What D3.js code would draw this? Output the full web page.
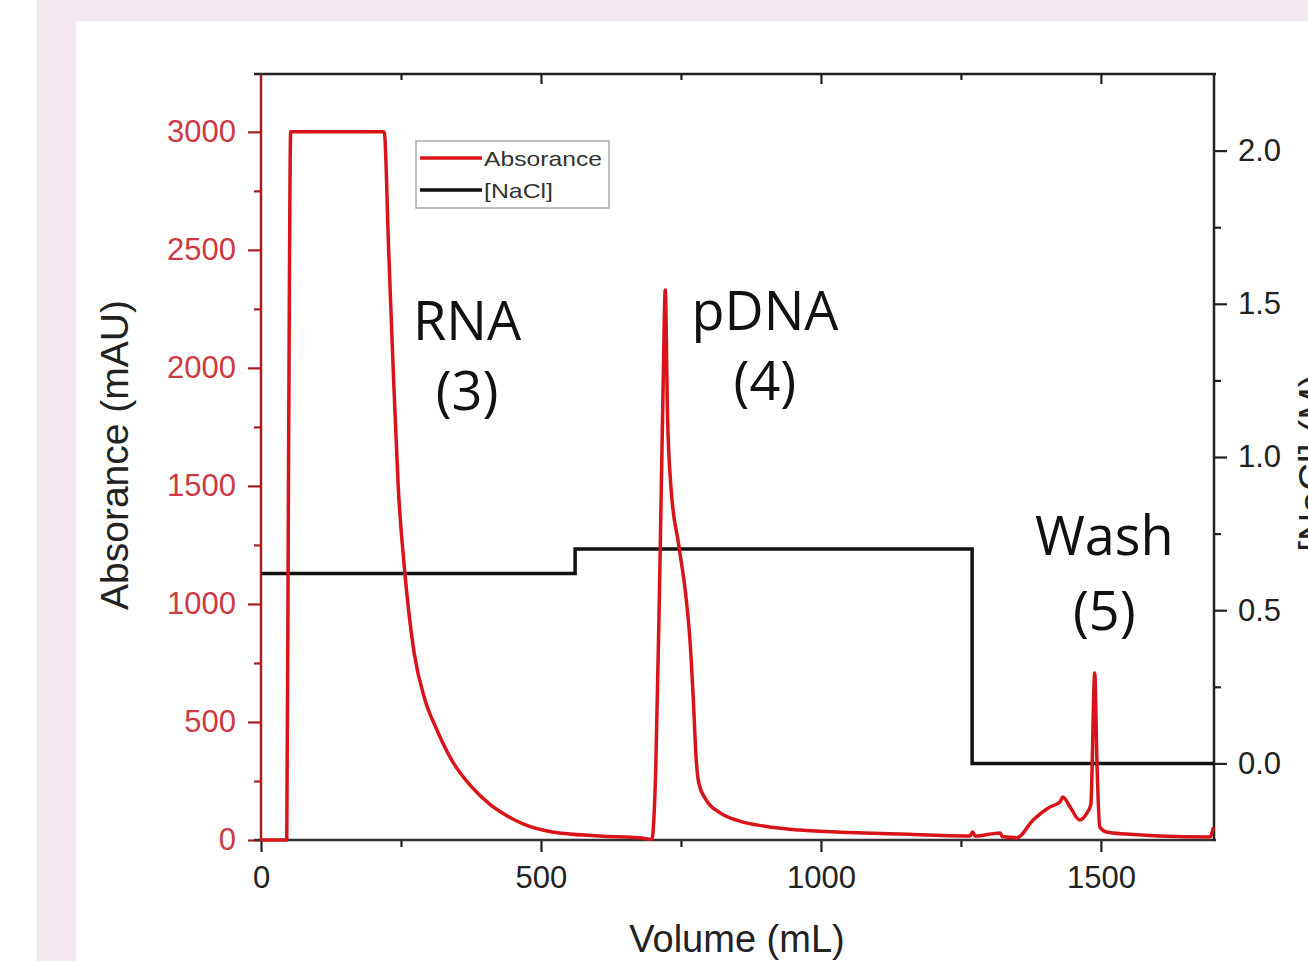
<!DOCTYPE html>
<html>
<head>
<meta charset="utf-8">
<script src="https://cdn.jsdelivr.net/npm/d3@7"></script>
<style>
  body { margin: 0; background: #ffffff; }
  svg { display: block; }
</style>
</head>
<body>
<div id="chart"></div>
<script>
// absorbance trace (mAU) vs volume (mL)
const absVolume = [0, 46, 49, 53, 220, 228, 236, 245, 257, 273, 293, 315, 342, 375, 410, 440, 468, 520, 605, 680, 698,
  705, 712, 718, 722, 726, 732, 746, 758, 766, 772, 777, 782, 795, 820, 855, 900, 962, 1050, 1141, 1266,
  1271, 1275, 1320, 1324, 1350, 1379, 1409, 1427, 1432, 1445, 1462, 1475, 1482, 1489, 1493, 1498, 1510, 1546, 1605, 1695, 1701];
const absorbance = [0, 0, 1500, 3000, 3000, 2500, 2000, 1500, 1130, 800, 593, 462, 333, 228, 149, 102, 68, 34, 17, 8, 3,
  300, 1100, 1900, 2330, 1800, 1500, 1250, 1050, 850, 600, 350, 240, 170, 115, 80, 58, 42, 32, 25, 17,
  34, 17, 30, 15, 10, 85, 140, 161, 182, 140, 85, 114, 150, 707, 326, 55, 34, 25, 17, 13, 55];

// salt steps (M)
const naclVolume = [0, 561, 1270, 1702];
const naclConc = [0.62, 0.70, 0.0, 0.0];

// ticks
const xMajor = [0, 500, 1000, 1500];
const xMinor = [250, 750, 1250];
const yLeftMajor = [0, 500, 1000, 1500, 2000, 2500, 3000];
const yLeftMinor = [250, 750, 1250, 1750, 2250, 2750];
const yRightMajor = [0, 0.5, 1.0, 1.5, 2.0];
const yRightMinor = [0.25, 0.75, 1.25, 1.75];

const peakLabels = [
  { lines: ["RNA", "(3)"], v: 368 },
  { lines: ["pDNA", "(4)"], v: 900 },
  { lines: ["Wash", "(5)"], v: 1506 }
];

const W = 1308, H = 961;
const svg = d3.select("#chart").append("svg").attr("width", W).attr("height", H);

// page background
svg.append("rect").attr("x", 37).attr("y", 0).attr("width", W - 37).attr("height", H).attr("fill", "#f4e9f0");
svg.append("rect").attr("x", 76).attr("y", 21).attr("width", W - 76).attr("height", H - 21).attr("fill", "#ffffff");

const x = d3.scaleLinear().domain([0, 1702]).range([261, 1214]);
const yL = d3.scaleLinear().domain([0, 3245]).range([840, 74]);
const yR = d3.scaleLinear().domain([-0.25, 2.25]).range([840, 74]);

const tickFont = "'Liberation Sans', Arial, sans-serif";
const red = "#d8141a";
const leftAxisCol = "#a81c22";

function styleAxis(g, col, labelCol) {
  g.selectAll(".domain").remove();
  g.selectAll(".tick line").attr("stroke", col).attr("stroke-width", 2.2);
  g.selectAll(".tick text").attr("fill", labelCol).style("font-family", tickFont).style("font-size", "31px");
}

// bottom axis
const gb = svg.append("g").attr("transform", "translate(0,840)")
  .call(d3.axisBottom(x).tickValues(xMajor).tickSize(12).tickPadding(14).tickFormat(d3.format("d")));
styleAxis(gb, "#222", "#222");
const gbm = svg.append("g").attr("transform", "translate(0,840)")
  .call(d3.axisBottom(x).tickValues(xMinor).tickSize(7).tickFormat(""));
styleAxis(gbm, "#222", "#222");

// top axis, ticks inward
const gt = svg.append("g").attr("transform", "translate(0,74)")
  .call(d3.axisTop(x).tickValues(xMajor.slice(1)).tickSize(-10).tickFormat(""));
styleAxis(gt, "#222", "#222");
const gtm = svg.append("g").attr("transform", "translate(0,74)")
  .call(d3.axisTop(x).tickValues(xMinor).tickSize(-6).tickFormat(""));
styleAxis(gtm, "#222", "#222");

// left axis
const gl = svg.append("g").attr("transform", "translate(261,0)")
  .call(d3.axisLeft(yL).tickValues(yLeftMajor).tickSize(13).tickPadding(12).tickFormat(d3.format("d")));
styleAxis(gl, leftAxisCol, "#cc3a44");
const glm = svg.append("g").attr("transform", "translate(261,0)")
  .call(d3.axisLeft(yL).tickValues(yLeftMinor).tickSize(7).tickFormat(""));
styleAxis(glm, leftAxisCol, "#cc3a44");

// right axis
const gr = svg.append("g").attr("transform", "translate(1214,0)")
  .call(d3.axisRight(yR).tickValues(yRightMajor).tickSize(13).tickPadding(11).tickFormat(d3.format(".1f")));
styleAxis(gr, "#222", "#222");
const grm = svg.append("g").attr("transform", "translate(1214,0)")
  .call(d3.axisRight(yR).tickValues(yRightMinor).tickSize(7).tickFormat(""));
styleAxis(grm, "#222", "#222");

// frame
svg.append("line").attr("x1", 254).attr("x2", 1216).attr("y1", 74).attr("y2", 74).attr("stroke", "#222").attr("stroke-width", 2.5);
svg.append("line").attr("x1", 254).attr("x2", 1216).attr("y1", 840).attr("y2", 840).attr("stroke", "#333").attr("stroke-width", 2.5);
svg.append("line").attr("x1", 261).attr("x2", 261).attr("y1", 74).attr("y2", 841).attr("stroke", leftAxisCol).attr("stroke-width", 2.5);
svg.append("line").attr("x1", 1214).attr("x2", 1214).attr("y1", 74).attr("y2", 841).attr("stroke", "#222").attr("stroke-width", 2.5);

// traces
const absData = absVolume.map((v, i) => [v, absorbance[i]]);
const naclData = naclVolume.map((v, i) => [v, naclConc[i]]);

svg.append("path").datum(naclData)
  .attr("fill", "none").attr("stroke", "#111").attr("stroke-width", 3.5)
  .attr("d", d3.line().x(d => x(d[0])).y(d => yR(d[1])).curve(d3.curveStepAfter));

svg.append("path").datum(absData)
  .attr("fill", "none").attr("stroke", red).attr("stroke-width", 3.5).attr("stroke-linejoin", "round")
  .attr("d", d3.line().x(d => x(d[0])).y(d => yL(d[1])).curve(d3.curveMonotoneX));

// axis titles
svg.append("text").attr("x", 737).attr("y", 952).attr("text-anchor", "middle")
  .style("font-family", tickFont).style("font-size", "38px").attr("fill", "#222").text("Volume (mL)");
svg.append("text").attr("transform", "translate(128,455) rotate(-90)").attr("text-anchor", "middle")
  .style("font-family", tickFont).style("font-size", "39px").attr("fill", "#222").text("Absorance (mAU)");
svg.append("text").attr("transform", "translate(1326,463) rotate(-90)").attr("text-anchor", "middle")
  .style("font-family", tickFont).style("font-size", "39px").attr("fill", "#222").text("[NaCl] (M)");

// peak annotations
const annFont = "'Open Sans', 'Noto Sans', sans-serif";
const annY = [[340, 410], [330, 400], [555, 630]];
peakLabels.forEach((p, i) => {
  const cx = x(p.v);
  p.lines.forEach((t, j) => {
    svg.append("text").attr("x", cx).attr("y", annY[i][j]).attr("text-anchor", "middle")
      .style("font-family", annFont).style("font-size", "54px").attr("fill", "#111").text(t);
  });
});

// legend
const lg = svg.append("g");
lg.append("rect").attr("x", 416).attr("y", 141).attr("width", 193).attr("height", 67)
  .attr("fill", "#fff").attr("stroke", "#aaa").attr("stroke-width", 1.5);
[{ name: "Absorance", col: red, y: 158, w: 118 }, { name: "[NaCl]", col: "#111", y: 190, w: 69 }].forEach(d => {
  lg.append("line").attr("x1", 420).attr("x2", 482).attr("y1", d.y).attr("y2", d.y)
    .attr("stroke", d.col).attr("stroke-width", 3.5);
  lg.append("text").attr("x", 484).attr("y", d.y + 8).attr("textLength", d.w).attr("lengthAdjust", "spacingAndGlyphs")
    .style("font-family", tickFont).style("font-size", "21px").attr("fill", "#333").text(d.name);
});
</script>
</body>
</html>
